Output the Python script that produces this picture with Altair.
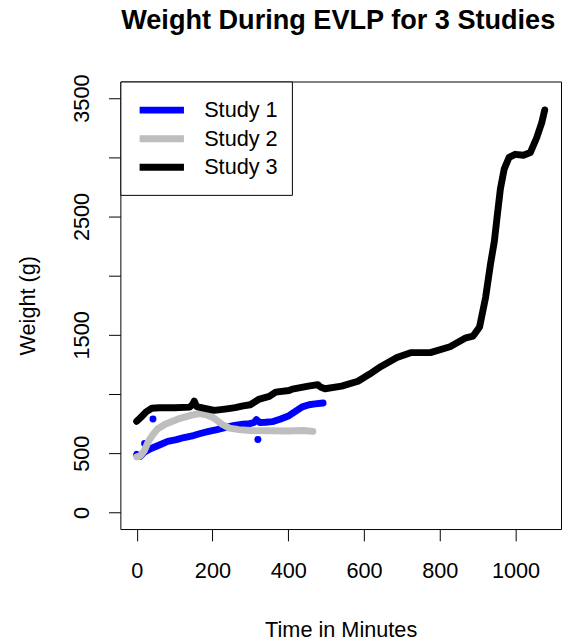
import altair as alt
import pandas as pd

# ---- data ----
study1_t = [0, 10, 20, 38, 60, 82, 105, 125, 150, 168, 190, 212, 235, 255, 280, 298, 310, 316, 325, 340, 358, 380, 402, 420, 437, 455, 471, 492]
study1_w = [490, 475, 510, 540, 570, 600, 615, 633, 650, 667, 685, 700, 718, 733, 745, 750, 760, 785, 760, 762, 767, 790, 817, 855, 892, 910, 917, 925]
study1_out_t = [21, 43, 320]
study1_out_w = [583, 790, 617]

study2_t = [0, 10, 20, 30, 42, 55, 75, 110, 145, 165, 185, 205, 225, 245, 270, 300, 350, 400, 440, 465]
study2_w = [470, 480, 520, 595, 655, 705, 745, 790, 822, 835, 825, 795, 745, 712, 700, 692, 690, 688, 692, 685]

study3_t = [0, 10, 25, 40, 60, 100, 140, 148, 152, 158, 180, 205, 238, 260, 281, 300, 324, 350, 367, 402, 411, 453, 478, 485, 497, 541, 584, 614, 645, 687, 723, 775, 827, 869, 888, 905, 921, 934, 944, 952, 960, 970, 983, 999, 1021, 1039, 1056, 1069, 1077]
study3_w = [770, 800, 850, 880, 885, 885, 890, 915, 940, 895, 880, 862, 875, 885, 900, 910, 958, 980, 1017, 1030, 1042, 1067, 1080, 1060, 1045, 1067, 1108, 1167, 1233, 1308, 1350, 1350, 1400, 1475, 1490, 1567, 1817, 2100, 2290, 2515, 2733, 2900, 3000, 3025, 3017, 3040, 3167, 3290, 3400]

studies = ["Study 1", "Study 2", "Study 3"]
colors = ["#0000FF", "#BEBEBE", "#000000"]

x_ticks = [0, 200, 400, 600, 800, 1000]
y_ticks = [0, 500, 1000, 1500, 2000, 2500, 3000, 3500]

rows = []
for name, ts, ws in zip(studies, [study1_t, study2_t, study3_t], [study1_w, study2_w, study3_w]):
    for t, w in zip(ts, ws):
        rows.append({"Study": name, "t": t, "w": w})
df = pd.DataFrame(rows)
df_out = pd.DataFrame({"t": study1_out_t, "w": study1_out_w})

FONT = "Liberation Sans"

xscale = alt.Scale(domain=[-43, 1120], nice=False, zero=False)
yscale = alt.Scale(domain=[-140, 3640], nice=False, zero=False)

xaxis = alt.Axis(values=x_ticks, format="d", title="Time in Minutes", grid=False, domain=False,
                 tickSize=12, tickColor="black", labelColor="black", labelFontSize=22,
                 labelFont=FONT, labelPadding=20, titleFont=FONT, titleFontSize=22,
                 titleFontWeight="normal", titleColor="black", titlePadding=39, labelFlush=False)
yaxis = alt.Axis(values=y_ticks, format="d", title="Weight (g)", grid=False, domain=False,
                 tickSize=12, tickColor="black", labelColor="black", labelFontSize=22,
                 labelFont=FONT, labelPadding=15, labelAngle=270, labelAlign="center",
                 labelBaseline="bottom",
                 labelExpr="(datum.value == 1000 || datum.value == 2000 || datum.value == 3000) ? '' : datum.label",
                 titleFont=FONT, titleFontSize=22, titleFontWeight="normal",
                 titleColor="black", titlePadding=32, labelFlush=False)

legend = alt.Legend(title=None, orient="top-left", offset=0, padding=14,
                    symbolType="M-2,0H2", symbolSize=506, symbolStrokeWidth=4,
                    symbolOffset=13,
                    labelFontSize=22, labelFont=FONT, labelColor="black",
                    labelOffset=28, strokeColor="black", fillColor="white",
                    rowPadding=-1.5, cornerRadius=0)

lines = alt.Chart(df).mark_line(strokeWidth=7, strokeCap="round", strokeJoin="round").encode(
    x=alt.X("t:Q", scale=xscale, axis=xaxis),
    y=alt.Y("w:Q", scale=yscale, axis=yaxis),
    color=alt.Color("Study:N", scale=alt.Scale(domain=studies, range=colors), legend=legend),
    strokeWidth=alt.StrokeWidth("Study:N", scale=alt.Scale(domain=studies, range=[7, 7, 8.5]), legend=None),
)

outliers = alt.Chart(df_out).mark_circle(size=50, opacity=1, color="#0000FF").encode(
    x=alt.X("t:Q", scale=xscale),
    y=alt.Y("w:Q", scale=yscale),
)

chart = alt.layer(outliers, lines).properties(
    width=447, height=454,
    autosize=alt.AutoSizeParams(type="none"),
    padding={"left": 114, "top": 70, "right": 1, "bottom": 109},
    title=alt.TitleParams("Weight During EVLP for 3 Studies", font=FONT, fontSize=27.5,
                          fontWeight="bold", color="black", anchor="middle", frame="group",
                          offset=18.5, baseline="alphabetic", dx=-2.5),
).configure(background="white").configure_view(stroke="black", strokeWidth=1)

chart.save("out.html", embed_options={"renderer": "svg", "actions": False})
